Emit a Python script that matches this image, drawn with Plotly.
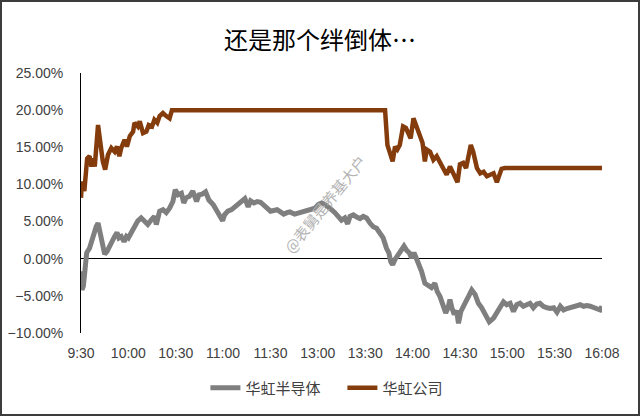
import plotly.graph_objects as go

# x positions are on a 0..110 scale (10 units between labelled ticks)
tick_pos = [0, 10, 20, 30, 40, 50, 60, 70, 80, 90, 100, 110]
tick_text = ["9:30", "10:00", "10:30", "11:00", "11:30", "13:00",
             "13:30", "14:00", "14:30", "15:00", "15:30", "16:08"]

# 华虹半导体 (%)
x_semi = [0, 0.2, 0.5, 0.9, 1.2, 1.8, 2.3, 2.7, 3.2, 3.6,
          3.9, 4.4, 5.0, 5.5, 6.0, 6.5, 7.1, 7.6, 8.0, 8.5,
          9.1, 9.6, 10.0, 10.6, 11.3, 12.0, 12.7, 13.4, 14.1, 14.8,
          15.5, 15.9, 16.6, 17.3, 18.0, 18.7, 19.4, 19.9, 20.5, 21.2,
          21.7, 22.2, 22.9, 23.6, 24.4, 24.9, 25.6, 26.3, 27.0, 27.9,
          28.6, 29.3, 29.9, 30.3, 31.0, 31.8, 32.5, 33.2, 33.9, 34.6,
          35.3, 35.8, 36.5, 37.2, 37.9, 38.6, 39.3, 40.0, 40.7, 41.4,
          42.1, 42.8, 43.5, 44.1, 45.1, 46.2, 47.3, 48.3, 49.4, 50.1,
          50.8, 51.5, 52.2, 52.9, 53.6, 54.3, 55.0, 55.7, 56.3, 56.8,
          57.5, 58.2, 58.9, 59.6, 60.3, 61.0, 61.7, 62.4, 63.1, 63.8,
          64.5, 65.0, 65.4, 65.8, 66.3, 67.0, 67.7, 68.2, 68.8, 69.3,
          69.8, 70.3, 70.9, 71.4, 71.9, 72.6, 73.3, 74.0, 74.7, 75.2,
          75.8, 76.5, 77.0, 77.5, 77.9, 78.3, 78.8, 79.3, 79.7, 80.2,
          80.7, 81.3, 81.8, 82.5, 83.2, 83.9, 84.6, 85.1, 85.7, 86.2,
          87.1, 87.8, 88.5, 89.2, 89.9, 90.6, 91.3, 92.0, 92.7, 93.4,
          94.1, 94.8, 95.5, 96.2, 96.9, 97.6, 98.4, 99.1, 99.8, 100.5,
          101.2, 101.9, 102.6, 103.3, 104.0, 104.7, 105.4, 106.1, 106.8, 107.5,
          108.2, 108.9, 109.6, 110.0]
y_semi = [-1.7, -4.2, -3.7, -1.3, 0.8, 1.4, 2.6, 3.2, 4.3, 4.8,
          3.9, 1.7, 0.6, 1.0, 1.7, 2.3, 3.0, 3.5, 2.8, 3.0,
          2.3, 3.0, 2.8, 3.5, 4.3, 5.1, 5.5, 5.0, 4.6, 5.2,
          5.7, 4.6, 6.4, 6.6, 6.2, 6.8, 7.7, 9.3, 8.6, 8.8,
          7.5, 8.2, 8.4, 9.1, 7.7, 8.6, 8.7, 9.0, 7.9, 7.3,
          6.6, 5.7, 5.1, 5.9, 6.4, 6.6, 7.0, 7.4, 7.7, 8.1,
          7.0, 7.8, 7.5, 7.7, 7.6, 7.3, 6.8, 6.4, 6.5, 6.6,
          6.3, 6.0, 6.2, 6.3, 6.0, 6.2, 6.4, 6.5, 6.8, 7.3,
          7.5, 7.3, 7.0, 6.6, 6.2, 5.7, 5.2, 5.5, 4.7, 5.7,
          5.9, 5.6, 5.4, 5.7, 5.5, 4.8, 4.3, 4.1, 3.5, 2.8,
          1.4, 0.8, -0.4, -0.8, -0.1, 0.5, 1.2, 1.7, 1.1, 0.8,
          0.1, 0.8, -0.1, -0.8, -1.7, -3.3, -3.7, -3.9, -3.3, -4.4,
          -5.1, -6.2, -7.3, -6.6, -5.5, -6.6, -7.5, -7.0, -8.7, -7.1,
          -6.6, -5.7, -5.1, -4.2, -4.8, -6.0, -6.6, -7.1, -8.0, -8.5,
          -8.0, -7.3, -6.4, -5.8, -6.2, -6.0, -7.1, -6.2, -6.0, -6.4,
          -6.2, -6.0, -6.6, -6.1, -6.0, -6.4, -6.6, -6.7, -6.6, -7.2,
          -6.4, -6.9, -6.7, -6.6, -6.4, -6.3, -6.2, -6.4, -6.3, -6.4,
          -6.6, -6.7, -6.9, -6.4]

# 华虹公司 (%)
x_co = [0, 0.2, 0.7, 1.3, 1.8, 2.2, 2.5, 2.9, 3.6, 4.1,
        4.6, 5.1, 5.7, 6.4, 7.1, 7.6, 8.1, 8.5, 9.2, 9.7,
        10.3, 11.0, 11.3, 12.0, 12.4, 13.1, 13.8, 14.3, 15.0, 15.5,
        16.1, 16.6, 17.3, 18.0, 18.7, 19.2,
        64.2, 64.7, 65.2, 65.8, 66.3, 66.8, 67.3, 68.0, 68.6, 69.1,
        69.6, 70.2, 70.7, 71.4, 72.1, 72.6, 73.0, 73.7, 74.4, 75.1,
        75.8, 76.5, 77.2, 77.9, 78.6, 79.5, 80.0, 80.7, 81.3, 81.8,
        82.3, 82.8, 83.6, 84.3, 85.0, 85.7, 86.4, 87.1, 87.8, 88.3,
        88.8, 89.5, 110.0]
y_co = [8.2, 10.4, 9.1, 13.5, 13.8, 12.4, 13.5, 12.4, 18.0, 15.3,
        13.1, 12.0, 14.0, 14.9, 14.4, 15.1, 13.8, 14.9, 16.0, 15.1,
        16.5, 17.1, 18.3, 17.8, 18.5, 16.9, 17.1, 18.0, 17.8, 18.7,
        18.3, 19.2, 19.6, 19.2, 18.9, 20.0,
        20.0, 15.3, 14.2, 13.1, 15.1, 14.7, 15.3, 17.8, 17.6, 16.7,
        16.2, 18.9, 18.0, 16.7, 15.6, 13.1, 14.7, 14.4, 13.3, 13.8,
        12.9, 12.0, 11.3, 12.4, 11.5, 10.3, 12.7, 12.9, 12.2, 13.8,
        15.3, 14.4, 12.2, 11.5, 11.7, 11.1, 11.3, 11.5, 10.3, 11.3,
        12.1, 12.2, 12.2]

W, H = 640, 416
ml, mr, mt, mb = 81, 38, 73, 83
pw, ph = W - ml - mr, H - mt - mb

fig = go.Figure()
fig.add_trace(go.Scatter(x=x_semi, y=y_semi, mode="lines", name="华虹半导体",
                         line=dict(color="#7f7f7f", width=5)))
fig.add_trace(go.Scatter(x=x_co, y=y_co, mode="lines", name="华虹公司",
                         line=dict(color="#843c0c", width=4.5)))

fig.update_layout(
    width=W, height=H,
    margin=dict(l=ml, r=mr, t=mt, b=mb, autoexpand=False),
    paper_bgcolor="white", plot_bgcolor="white",
    title=dict(text="还是那个绊倒体…", x=0.5, xanchor="center",
               y=1 - 41 / H, yanchor="middle", yref="container",
               font=dict(family="Noto Sans CJK SC", size=24, color="black")),
    legend=dict(orientation="h", x=0.535, xanchor="center", xref="container",
                y=1 - 388 / H, yanchor="middle", yref="container",
                entrywidth=92, entrywidthmode="pixels",
                font=dict(family="Noto Sans CJK SC", size=15, color="#404040")),
    xaxis=dict(range=[0, 110], tickvals=tick_pos, ticktext=tick_text,
               showgrid=False, zeroline=False, showline=False, ticks="",
               automargin=False, ticklabelstandoff=10,
               tickfont=dict(family="Liberation Sans", size=14, color="#404040")),
    yaxis=dict(range=[-10, 25], dtick=5, tickformat=".2f", ticksuffix="%",
               showgrid=False, zeroline=True, zerolinecolor="black", zerolinewidth=1,
               showline=True, linecolor="black", linewidth=1, ticks="",
               automargin=False, ticklabelstandoff=14,
               tickfont=dict(family="Liberation Sans", size=14, color="#404040")),
    annotations=[dict(text="@表舅是养基大户", x=(324 - ml) / pw, y=(H - mb - 204) / ph,
                      xref="paper", yref="paper", showarrow=False, textangle=-51,
                      font=dict(family="Noto Sans CJK SC", size=15, color="#b4b4b4"))],
    shapes=[dict(type="rect", xref="paper", yref="paper",
                 x0=(1 - ml) / pw, x1=1 + (mr - 1) / pw,
                 y0=-(mb - 1) / ph, y1=1 + (mt - 1) / ph,
                 line=dict(color="#3c3c3c", width=2))],
)

# the page's default body margin would shift the figure by 8px
fig.write_html("out.html", config={"displayModeBar": False},
               post_script="document.body.style.margin = '0';")
